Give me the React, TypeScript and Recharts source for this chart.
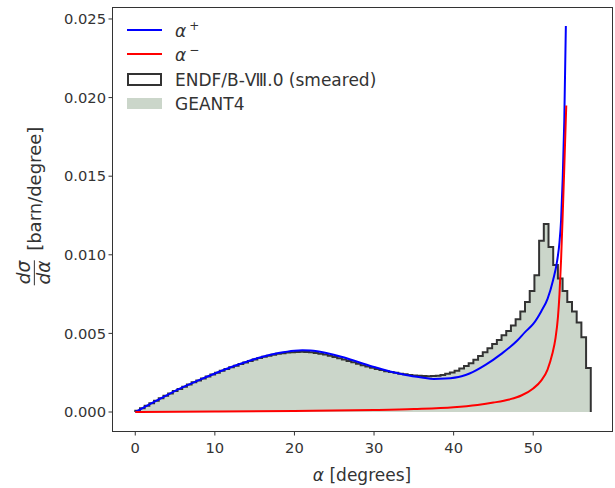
import React from "react";
import { ComposedChart, Area, Line, XAxis, YAxis } from "recharts";

// histogram bins (GEANT4 / ENDF smeared), bin width in degrees, starting at 0
const BIN_WIDTH = 0.59;
const binCounts = [
  0.00008, 0.00024, 0.0004, 0.00056, 0.00072, 0.00087, 0.00103, 0.00118, 0.00133, 0.00147,
  0.00161, 0.00175, 0.00189, 0.00201, 0.00213, 0.00226, 0.00238, 0.0025, 0.00262, 0.00273,
  0.00285, 0.00295, 0.00305, 0.00315, 0.00325, 0.00334, 0.00343, 0.00351, 0.00358, 0.00364,
  0.0037, 0.00374, 0.00378, 0.0038, 0.00382, 0.00383, 0.00382, 0.0038, 0.00376, 0.00371,
  0.00365, 0.00358, 0.0035, 0.00342, 0.00334, 0.00325, 0.00316, 0.00307, 0.00298, 0.0029,
  0.00282, 0.00274, 0.00267, 0.0026, 0.00254, 0.00249, 0.00244, 0.0024, 0.00236, 0.00233,
  0.00231, 0.00229, 0.00228, 0.00229, 0.00231, 0.00236, 0.00243, 0.00252, 0.00263, 0.00276,
  0.00292, 0.0031, 0.00332, 0.00356, 0.0038, 0.00405, 0.00432, 0.00458, 0.00488, 0.00515,
  0.0055, 0.0059, 0.0064, 0.007, 0.0077, 0.0087, 0.0109, 0.01196, 0.0105, 0.00935,
  0.0085, 0.0077, 0.007, 0.0064, 0.0057, 0.00475, 0.0028,
];

// alpha+ curve
const plusDeg = [0, 2, 4, 6, 8, 10, 12, 14, 16, 18, 20, 21, 22, 24, 26, 28, 30, 32, 34, 36, 37.5, 39, 41, 42, 44, 46, 48, 49, 50, 51, 51.8, 52.5, 53, 53.3, 53.5, 53.7, 53.9, 54.1];
const plusVal = [0, 0.00055, 0.00108, 0.00158, 0.00203, 0.00245, 0.00285, 0.0032, 0.00352, 0.00375, 0.0039, 0.00393, 0.00391, 0.00375, 0.0035, 0.00318, 0.00286, 0.00258, 0.00236, 0.0022, 0.0021, 0.00213, 0.00228, 0.00245, 0.003, 0.0037, 0.00455, 0.0051, 0.0056, 0.0064, 0.0072, 0.0084, 0.0096, 0.0108, 0.0122, 0.0148, 0.0185, 0.02455];

// alpha- curve
const minusDeg = [0, 10, 20, 30, 35, 40, 43, 45, 47, 48.5, 50, 51, 51.8, 52.4, 52.8, 53.1, 53.3, 53.5, 53.7, 53.9, 54.15];
const minusVal = [0, 0.00003, 0.00007, 0.00013, 0.00019, 0.0003, 0.00045, 0.0006, 0.0008, 0.00105, 0.0015, 0.002, 0.0027, 0.0037, 0.0047, 0.006, 0.0075, 0.0097, 0.0125, 0.0155, 0.0195];

const xTicks = [0, 10, 20, 30, 40, 50];
const yTicks = [0, 0.005, 0.01, 0.015, 0.02, 0.025];

const histData = [
  { x: 0, y: 0 },
  ...binCounts.map((v, i) => ({ x: i * BIN_WIDTH, y: v })),
  { x: binCounts.length * BIN_WIDTH, y: 0 },
];
const plusData = plusDeg.map((d, i) => ({ x: d, y: plusVal[i] }));
const minusData = minusDeg.map((d, i) => ({ x: d, y: minusVal[i] }));

const TEXT = "#333333";
const FILL = "#cbd6ca";
const tickStyle = { fontFamily: "DejaVu Sans", fontSize: 14.7, fill: TEXT };

const Alpha = ({ sup }: { sup: string }) => (
  <span>
    <i>α</i>
    <span style={{ fontSize: 12, position: "relative", top: -7, marginLeft: 3 }}>{sup}</span>
  </span>
);

const legendText = (top: number, content: React.ReactNode) => (
  <div
    style={{
      position: "absolute",
      left: 175,
      top,
      transform: "translateY(-50%)",
      fontSize: 17,
      lineHeight: 1,
      whiteSpace: "nowrap",
      color: TEXT,
    }}
  >
    {content}
  </div>
);

const App = () => {
  return (
    <div
      style={{
        position: "absolute",
        left: 0,
        top: 0,
        width: 615,
        height: 488,
        background: "#fff",
        fontFamily: "DejaVu Sans",
      }}
    >
      <ComposedChart
        width={615}
        height={488}
        margin={{ top: 7.5, right: 2.5, bottom: 26.5, left: 0 }}
      >
        <XAxis
          dataKey="x"
          type="number"
          domain={[-2.86, 59.96]}
          ticks={xTicks}
          allowDataOverflow
          axisLine={false}
          tickSize={4}
          tickMargin={7.5}
          tickLine={{ stroke: TEXT }}
          tick={tickStyle}
          height={30}
        />
        <YAxis
          type="number"
          domain={[-0.00124, 0.02573]}
          ticks={yTicks}
          allowDataOverflow
          axisLine={false}
          tickSize={4}
          tickMargin={2.5}
          tickLine={{ stroke: TEXT }}
          tick={tickStyle}
          tickFormatter={(v: number) => v.toFixed(3)}
          width={112.5}
        />
        <Area
          data={histData}
          dataKey="y"
          type="stepAfter"
          stroke="none"
          fill={FILL}
          fillOpacity={1}
          baseValue={0}
          isAnimationActive={false}
        />
        <Line
          data={histData}
          dataKey="y"
          type="stepAfter"
          stroke={TEXT}
          strokeWidth={2}
          dot={false}
          isAnimationActive={false}
        />
        <Line
          data={plusData}
          dataKey="y"
          type="monotone"
          stroke="#0000ff"
          strokeWidth={2}
          dot={false}
          isAnimationActive={false}
        />
        <Line
          data={minusData}
          dataKey="y"
          type="monotone"
          stroke="#ff0000"
          strokeWidth={2}
          dot={false}
          isAnimationActive={false}
        />
      </ComposedChart>

      {/* axes frame */}
      <div
        style={{
          position: "absolute",
          left: 112,
          top: 7,
          width: 501,
          height: 425,
          border: `1.2px solid ${TEXT}`,
          boxSizing: "border-box",
          pointerEvents: "none",
        }}
      />

      {/* legend */}
      <div style={{ position: "absolute", left: 127, top: 29, width: 35, height: 2, background: "#0000ff" }} />
      {legendText(31, <Alpha sup="+" />)}
      <div style={{ position: "absolute", left: 127, top: 53, width: 35, height: 2, background: "#ff0000" }} />
      {legendText(55, <Alpha sup="−" />)}
      <div
        style={{
          position: "absolute",
          left: 127,
          top: 73,
          width: 35,
          height: 13,
          border: `2px solid ${TEXT}`,
          boxSizing: "border-box",
        }}
      />
      {legendText(80, "ENDF/B-Ⅷ.0 (smeared)")}
      <div style={{ position: "absolute", left: 127, top: 98, width: 35, height: 11, background: FILL }} />
      {legendText(104, "GEANT4")}

      {/* x label */}
      <div
        style={{
          position: "absolute",
          left: 362,
          top: 475,
          transform: "translate(-50%, -50%)",
          fontSize: 17,
          lineHeight: 1,
          whiteSpace: "nowrap",
          color: TEXT,
        }}
      >
        <i>α</i> [degrees]
      </div>

      {/* y label */}
      <div
        style={{
          position: "absolute",
          left: 34,
          top: 206,
          transform: "translate(-50%, -50%) rotate(-90deg)",
          display: "flex",
          alignItems: "center",
          whiteSpace: "nowrap",
          color: TEXT,
        }}
      >
        <span
          style={{
            display: "inline-flex",
            flexDirection: "column",
            alignItems: "center",
            fontSize: 18.5,
            fontStyle: "italic",
            lineHeight: 0.9,
          }}
        >
          <span style={{ padding: "0 1px 1px" }}>dσ</span>
          <span style={{ alignSelf: "stretch", borderTop: `1.3px solid ${TEXT}` }} />
          <span style={{ paddingTop: 1 }}>dα</span>
        </span>
        <span style={{ fontSize: 18, marginLeft: 9 }}>[barn/degree]</span>
      </div>
    </div>
  );
};

export default App;
